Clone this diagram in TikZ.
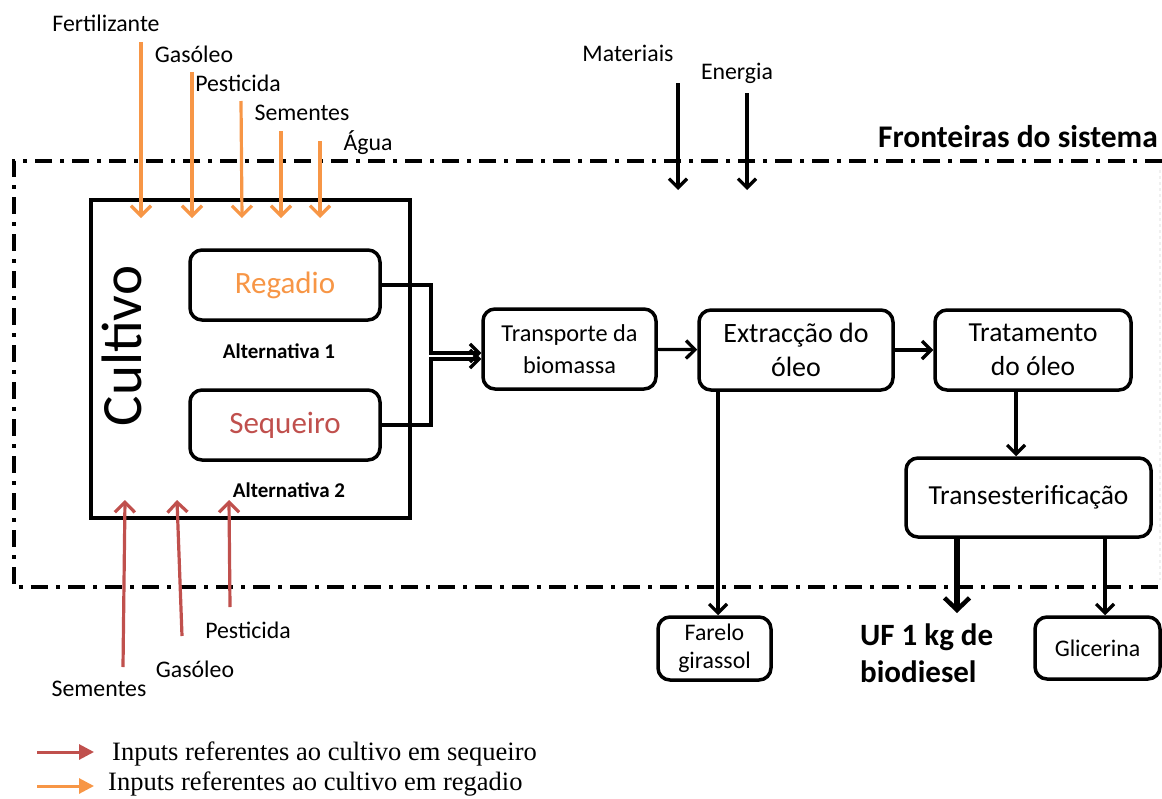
\documentclass[tikz,border=0pt]{standalone}
\usepackage{fontspec}
\setmainfont{Carlito}
\newfontfamily\legfont{Liberation Serif}
\usetikzlibrary{arrows.meta}
\definecolor{orin}{HTML}{F79646}
\definecolor{redin}{HTML}{C0504D}
\tikzset{
  proc/.style={draw, line width=3.5pt, rounded corners=12pt, align=center, inner sep=0pt},
  lbl/.style={inner sep=0pt, font=\fontsize{23.8}{28}\selectfont},
  barb/.style={line width=3.2pt, -{Straight Barb[length=10pt,width=20pt,line width=3.2pt]}},
  orarr/.style={barb, draw=orin},
  redarr/.style={barb, draw=redin},
  blarr/.style={line width=3.2pt, -{Straight Barb[length=9pt,width=18pt,line width=3.2pt]}},
  frame/.style={line width=3.5pt, dash pattern=on 17pt off 8pt on 4pt off 8pt},
  legarr/.style={line width=3pt, -{Triangle[length=15pt,width=15pt]}},
}
\begin{document}
\begin{tikzpicture}[x=1pt,y=-1pt]
\useasboundingbox (0,0) rectangle (1162,798);

% system frame
\draw[frame] (1162,161) -- (14,161) -- (14,587) -- (1162,587);
\draw[gray!12, line width=2pt, dashed] (1160,170) -- (1160,580);
\node[inner sep=0pt, anchor=east, font=\bfseries\fontsize{31.5}{36}\selectfont] (front) at (1158,137) {Fronteiras do sistema};

% cultivo block
\node[draw, line width=3.5pt, minimum width=319pt, minimum height=318pt, inner sep=0pt] (cult) at (250.5,359) {};
\node[rotate=90, inner sep=0pt, font=\fontsize{57}{60}\selectfont] (cultt) at (122,346) {Cultivo};
\node[proc, minimum width=190pt, minimum height=70pt, text=orin, font=\fontsize{31}{34}\selectfont] (reg) at (285,285) {Regadio};
\node[proc, minimum width=190pt, minimum height=70pt, text=redin, font=\fontsize{31}{34}\selectfont] (seq) at (285,425) {Sequeiro};
\node[inner sep=0pt, font=\bfseries\fontsize{21}{24}\selectfont] (alt1) at (279,351) {Alternativa 1};
\node[inner sep=0pt, font=\bfseries\fontsize{21}{24}\selectfont] (alt2) at (289,490) {Alternativa 2};

% process boxes
\node[proc, minimum width=173pt, minimum height=80pt, font=\fontsize{24.3}{32}\selectfont] (trans) at (569.5,349) {Transporte da\\biomassa};
\node[proc, minimum width=194pt, minimum height=80pt, font=\fontsize{28}{34}\selectfont] (ext) at (796,350) {Extracção do\\óleo};
\node[proc, minimum width=196pt, minimum height=80pt, font=\fontsize{27.5}{34}\selectfont] (trat) at (1033,350) {Tratamento\\do óleo};
\node[proc, minimum width=245pt, minimum height=79pt, font=\fontsize{27.5}{34}\selectfont] (tes) at (1028.5,497.5) {Transesterificação};
\node[proc, minimum width=113pt, minimum height=63pt, font=\fontsize{23.8}{28}\selectfont] (far) at (714.5,648.5) {Farelo\\girassol};
\node[proc, minimum width=125pt, minimum height=62pt, font=\fontsize{23.8}{28}\selectfont] (gli) at (1097.5,648) {Glicerina};
\node[inner sep=0pt, anchor=west, align=left, font=\bfseries\fontsize{31}{37}\selectfont] (uf) at (860,653) {UF 1 kg de\\biodiesel};

% connectors between processes
\coordinate (j1) at (431,353);
\coordinate (j2) at (431,359);
\draw[blarr] (reg.east) -| (j1) -- (j1 -| trans.west);
\draw[blarr] (seq.east) -| (j2) -- (j2 -| trans.west);
\draw[blarr] (trans) -- (ext);
\draw[blarr] (ext) -- (trat);
\coordinate (xt) at (1016,0);
\draw[blarr] (trat.south -| xt) -- (tes.north -| xt);
\coordinate (xf) at (718,0);
\draw[blarr] (ext.south -| xf) -- (far.north -| xf);
\coordinate (xg) at (1105,0);
\draw[blarr] (tes.south -| xg) -- (gli.north -| xg);
\coordinate (ufe) at (957,613);
\draw[line width=5.5pt, -{Straight Barb[length=12pt,width=25pt,line width=4.5pt]}] (tes.south -| ufe) -- (ufe);

% materials and energy
\node[lbl] (mat) at (628,53) {Materiais};
\node[lbl] (ene) at (737,73) {Energia};
\coordinate (m1) at (678,83); \coordinate (m2) at (678,190);
\coordinate (e1) at (747,93); \coordinate (e2) at (747,190);
\draw[blarr] (m1) -- (m2);
\draw[blarr] (e1) -- (e2);

% orange inputs (regadio)
\node[lbl] (ofert) at (106,23) {Fertilizante};
\node[lbl] (ogas) at (194,54) {Gasóleo};
\node[lbl] (opes) at (238,83) {Pesticida};
\node[lbl] (osem) at (302,113) {Sementes};
\node[lbl] (oagu) at (368,143) {Água};
\coordinate (o1a) at (141,42);  \coordinate (o1b) at (141,218);
\coordinate (o2a) at (192,72);  \coordinate (o2b) at (192,218);
\coordinate (o3a) at (241,101); \coordinate (o3b) at (242,218);
\coordinate (o4a) at (281,131); \coordinate (o4b) at (281,218);
\coordinate (o5a) at (320,141); \coordinate (o5b) at (320,218);
\draw[orarr] (o1a) -- (o1b);
\draw[orarr] (o2a) -- (o2b);
\draw[orarr] (o3a) -- (o3b);
\draw[orarr] (o4a) -- (o4b);
\draw[orarr] (o5a) -- (o5b);

% red inputs (sequeiro)
\node[lbl] (rsem) at (99,689) {Sementes};
\node[lbl] (rgas) at (195,669) {Gasóleo};
\node[lbl] (rpes) at (248,630) {Pesticida};
\coordinate (r1a) at (123,667); \coordinate (r1b) at (125,500);
\coordinate (r2a) at (182,636); \coordinate (r2b) at (177,500);
\coordinate (r3a) at (230,607); \coordinate (r3b) at (229,500);
\draw[redarr] (r1a) -- (r1b);
\draw[redarr] (r2a) -- (r2b);
\draw[redarr] (r3a) -- (r3b);

% legend
\coordinate (l1a) at (37,752); \coordinate (l1b) at (94,752);
\coordinate (l2a) at (37,786); \coordinate (l2b) at (94,786);
\draw[legarr, draw=redin, fill=redin] (l1a) -- (l1b);
\draw[legarr, draw=orin, fill=orin] (l2a) -- (l2b);
\node[inner sep=0pt, anchor=west, font=\legfont\fontsize{26.5}{30}\selectfont] (leg1) at (112,754) {Inputs referentes ao cultivo em sequeiro};
\node[inner sep=0pt, anchor=west, font=\legfont\fontsize{26.5}{30}\selectfont] (leg2) at (108,784) {Inputs referentes ao cultivo em regadio};
\end{tikzpicture}
\end{document}
